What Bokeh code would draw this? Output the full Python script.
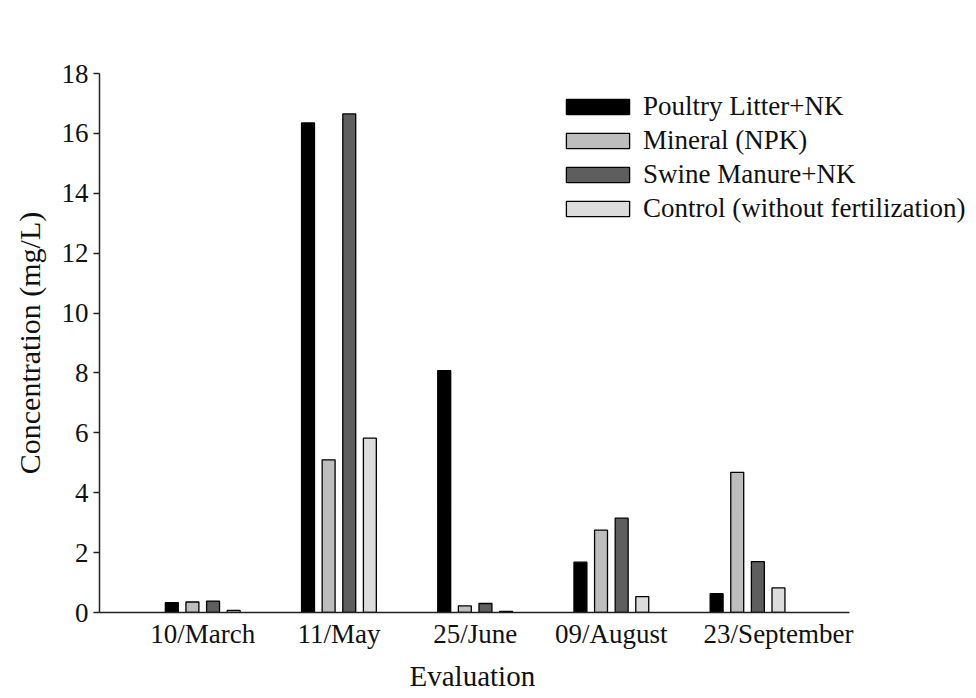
from bokeh.plotting import figure
from bokeh.models import Range1d, FixedTicker, Legend, LegendItem, ColumnDataSource, Title
from bokeh.embed import file_html
from bokeh.resources import INLINE

categories = ["10/March", "11/May", "25/June", "09/August", "23/September"]
series_names = ["Poultry Litter+NK", "Mineral (NPK)", "Swine Manure+NK", "Control (without fertilization)"]
poultry = [0.33, 16.35, 8.08, 1.68, 0.63]
mineral = [0.35, 5.10, 0.22, 2.75, 4.68]
swine = [0.38, 16.65, 0.30, 3.15, 1.70]
control = [0.07, 5.82, 0.04, 0.53, 0.82]
colors = ["#000000", "#bdbdbd", "#5e5e5e", "#dcdcdc"]

FONT = "Liberation Serif"
p = figure(width=976, height=698, output_backend="svg", toolbar_location=None,
           x_range=Range1d(0.242, 6.681), y_range=Range1d(0, 18),
           min_border_left=99, min_border_right=0, min_border_top=73, min_border_bottom=86)
p.outline_line_color = None
p.grid.grid_line_color = None

xs = list(range(1, len(categories) + 1))
offsets = [-0.227, -0.0757, 0.0757, 0.227]
renderers = []
for vals, col, off in zip([poultry, mineral, swine, control], colors, offsets):
    src = ColumnDataSource(dict(x=[x + off for x in xs], top=vals))
    r = p.vbar(x="x", top="top", bottom=0, width=0.095, source=src,
               fill_color=col, line_color="#000000", line_width=1.3)
    renderers.append(r)

# axes (the last category label sits a little to the right, as in the original)
label_nudge = [0, 0, 0, 0, 0.228]
tick_pos = [x + n for x, n in zip(xs, label_nudge)]
p.xaxis.bounds = (0.242, 5.751)
p.xaxis.ticker = FixedTicker(ticks=tick_pos)
p.xaxis.major_label_overrides = {t: c for t, c in zip(tick_pos, categories)}
p.xaxis.minor_tick_line_color = None
p.xaxis.major_tick_out = 0
p.xaxis.major_tick_in = 0
p.xaxis.major_label_standoff = 6

p.yaxis.ticker = FixedTicker(ticks=list(range(0, 19, 2)))
p.yaxis.minor_tick_line_color = None
p.yaxis.major_tick_in = 0
p.yaxis.major_tick_out = 6
p.yaxis.major_label_standoff = 5
p.yaxis.axis_label = "Concentration (mg/L)"
p.yaxis.axis_label_standoff = 13

for ax in [p.xaxis[0], p.yaxis[0]]:
    ax.axis_line_width = 1.5
    ax.axis_line_color = "#222222"
    ax.major_tick_line_width = 1.5
    ax.major_tick_line_color = "#222222" if ax is p.yaxis[0] else None
    ax.major_label_text_font = FONT
    ax.major_label_text_font_size = "27px"
    ax.major_label_text_color = "#111111"
    ax.axis_label_text_font = FONT
    ax.axis_label_text_font_style = "normal"
    ax.axis_label_text_color = "#111111"
p.yaxis.axis_label_text_font_size = "30px"

xtitle = Title(text="Evaluation", align="left", offset=310, standoff=13,
               text_font=FONT, text_font_size="29px", text_font_style="normal",
               text_color="#111111")
p.add_layout(xtitle, "below")

legend = Legend(items=[LegendItem(label=n, renderers=[r]) for n, r in zip(series_names, renderers)],
                location=(459, 388), orientation="vertical",
                glyph_width=79, glyph_height=19, label_height=30, spacing=3,
                label_standoff=6, padding=0, margin=0,
                border_line_color=None, background_fill_alpha=0,
                label_text_font=FONT, label_text_font_size="27px", label_text_color="#111111")
p.add_layout(legend, "center")

open("out.html", "w").write(file_html(p, INLINE))
